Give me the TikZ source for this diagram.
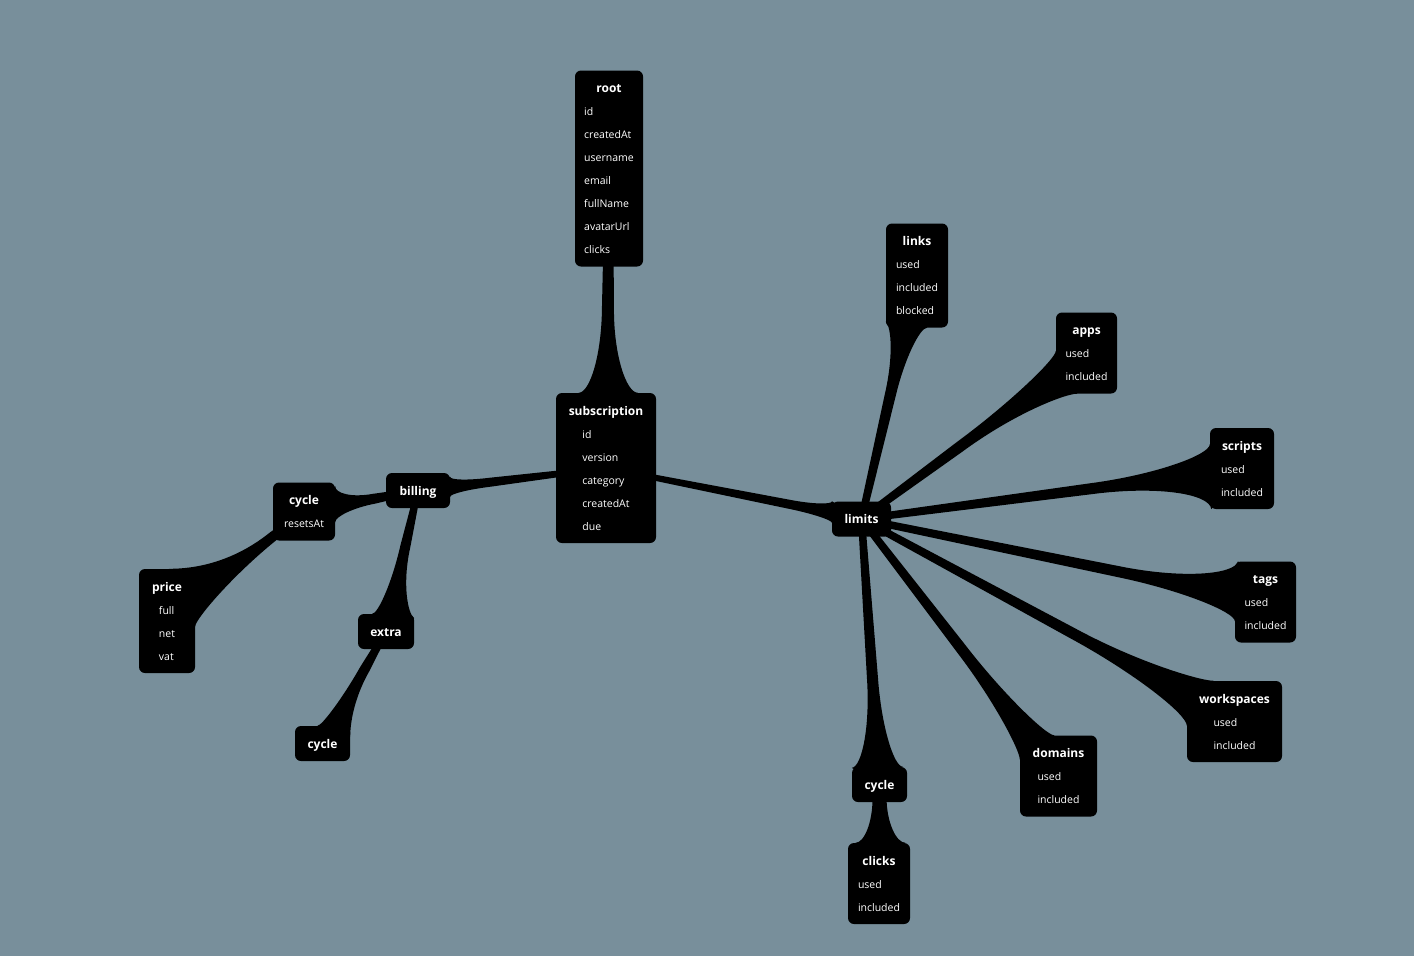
\documentclass[tikz,border=0pt]{standalone}
\usepackage{fontspec}
\setmainfont{Open Sans}
\usetikzlibrary{calc}
\definecolor{slate}{RGB}{120,143,155}
\pgfdeclarelayer{paper}
\pgfdeclarelayer{wires}
\pgfsetlayers{paper,wires,main}

\newcommand\ent[2]{\begin{tabular}{@{}c@{}}{\bfseries\fontsize{12}{23}\selectfont #1}\\ \begin{tabular}[t]{@{}l@{}}#2\end{tabular}\end{tabular}}
\newcommand\ttl[1]{\begin{tabular}{@{}c@{}}{\bfseries\fontsize{12}{23}\selectfont #1}\end{tabular}}
% tapered wire: #1 narrow end, #2 flared end, #3 half width, #4 flare half width, #5 flare length
\newcommand\goo[5]{%
  \path let \p1=($(#1)-(#2)$), \n1={atan2(\y1,\x1)} in coordinate (gb) at (#2.\n1);
  \path coordinate (q1) at ($(gb)!#4pt!90:(#1)$) coordinate (q2) at ($(gb)!#4pt!-90:(#1)$)
        coordinate (r1) at ($(gb)!{0.5*(#3+2+#4)*1pt}!90:(#1)$) coordinate (r2) at ($(gb)!{0.5*(#3+2+#4)*1pt}!-90:(#1)$);
  \path let \p1=($(q1)-(#2)$), \n1={atan2(\y1,\x1)}, \p2=($(q2)-(#2)$), \n2={atan2(\y2,\x2)},
            \p3=($(r1)-(#2)$), \n3={atan2(\y3,\x3)}, \p4=($(r2)-(#2)$), \n4={atan2(\y4,\x4)} in
        coordinate (e1) at (#2.\n1) coordinate (e2) at (#2.\n2)
        coordinate (c1) at (#2.\n3) coordinate (c2) at (#2.\n4);
  \fill ($(#1)!#3pt!-90:(gb)$) -- ($(gb)!#5pt!(#1)!{(#3+2)*1pt}!90:(#1)$)
        .. controls ($(gb)!{0.45*#5pt}!(#1)!{(#3+2)*1pt}!90:(#1)$) and (c1) .. (e1) -- (#2.center) -- (e2)
        .. controls (c2) and ($(gb)!{0.45*#5pt}!(#1)!{(#3+2)*1pt}!-90:(#1)$) .. ($(gb)!#5pt!(#1)!{(#3+2)*1pt}!-90:(#1)$)
        -- ($(#1)!#3pt!90:(gb)$) -- cycle;
}

\begin{document}
\begin{tikzpicture}[x=1pt, y=-1pt,
    entity/.style={fill=black, text=white, rounded corners=6pt, inner xsep=0pt, inner ysep=6pt,
      font=\fontsize{10.5}{23}\selectfont}]
  \begin{pgfonlayer}{paper}
    \fill[slate] (0,0) rectangle (1414,956);
  \end{pgfonlayer}

  \node[entity, minimum width=68] (root) at (609,168.5) {\ent{root}{id\\createdAt\\username\\email\\fullName\\avatarUrl\\clicks}};
  \node[entity, minimum width=100] (sub) at (606,468) {\ent{subscription}{id\\version\\category\\createdAt\\due}};
  \node[entity, minimum width=64] (billing) at (418,490.5) {\ttl{billing}};
  \node[entity, minimum width=62] (bcycle) at (304,511.5) {\ent{cycle}{resetsAt}};
  \node[entity, minimum width=56] (price) at (167,621) {\ent{price}{full\\net\\vat}};
  \node[entity, minimum width=56] (extra) at (386,631.5) {\ttl{extra}};
  \node[entity, minimum width=55] (ecycle) at (322.5,743.5) {\ttl{cycle}};
  \node[entity, minimum width=59] (limits) at (861.5,519) {\ttl{limits}};
  \node[entity, minimum width=62] (links) at (917,275.5) {\ent{links}{used\\included\\blocked}};
  \node[entity, minimum width=61] (apps) at (1086.5,353) {\ent{apps}{used\\included}};
  \node[entity, minimum width=64] (scripts) at (1242,468.5) {\ent{scripts}{used\\included}};
  \node[entity, minimum width=61] (tags) at (1265.5,602) {\ent{tags}{used\\included}};
  \node[entity, minimum width=95] (workspaces) at (1234.5,721.5) {\ent{workspaces}{used\\included}};
  \node[entity, minimum width=77] (domains) at (1058.5,776) {\ent{domains}{used\\included}};
  \node[entity, minimum width=55] (lcycle) at (879.5,784.5) {\ttl{cycle}};
  \node[entity, minimum width=62] (clicks) at (879,883.5) {\ent{clicks}{used\\included}};

  \begin{pgfonlayer}{wires}
    \goo{root}{sub}{4}{30}{85}
    \goo{sub}{billing}{2.5}{10}{40}
    \goo{sub}{limits}{2.5}{10}{45}
    \goo{billing}{bcycle}{3}{18}{40}
    \goo{bcycle}{price}{3}{42}{100}
    \goo{billing}{extra}{3}{23}{70}
    \goo{extra}{ecycle}{3}{21}{65}
    \goo{limits}{links}{3.5}{22}{70}
    \goo{limits}{apps}{3.5}{32}{120}
    \goo{limits}{scripts}{3.5}{32}{120}
    \goo{limits}{tags}{3.5}{30}{120}
    \goo{limits}{workspaces}{3.5}{36}{130}
    \goo{limits}{domains}{3.5}{30}{110}
    \goo{limits}{lcycle}{3.5}{26}{90}
    \goo{lcycle}{clicks}{5}{25}{45}
  \end{pgfonlayer}
\end{tikzpicture}
\end{document}
